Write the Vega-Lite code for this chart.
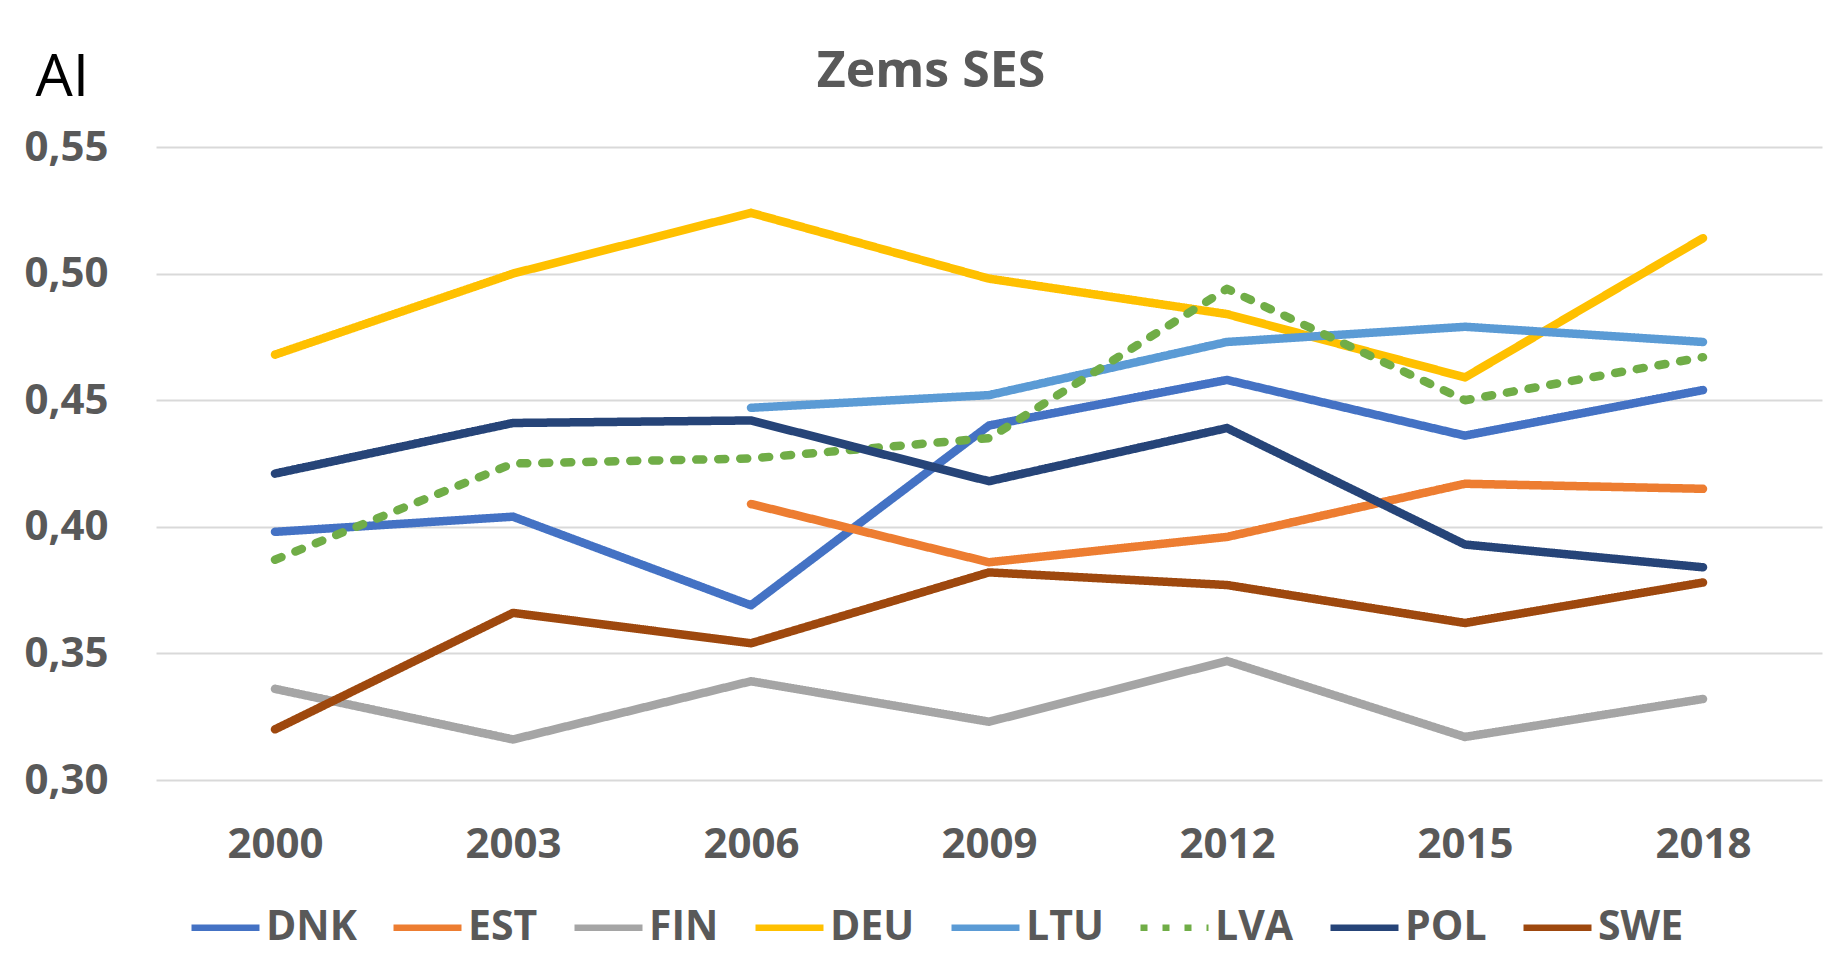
{
  "$schema": "https://vega.github.io/schema/vega-lite/v6.json",
  "width": 1666,
  "height": 633,
  "autosize": {"type": "none"},
  "padding": {"left": 156, "top": 147, "right": 25, "bottom": 192},
  "background": "white",
  "config": {
    "locale": {"number": {"decimal": ",", "thousands": ".", "grouping": [3], "currency": ["", "€"]}},
    "view": {"stroke": null},
    "font": "Open Sans"
  },
  "title": {
    "text": "Zems SES",
    "font": "Open Sans",
    "fontSize": 50,
    "fontWeight": "bold",
    "color": "#595959",
    "anchor": "middle",
    "frame": "bounds",
    "offset": 0,
    "dy": 49,
    "dx": 8
  },
  "data": {
    "values": [
      {"country": "DNK", "year": "2000", "value": 0.398},
      {"country": "DNK", "year": "2003", "value": 0.404},
      {"country": "DNK", "year": "2006", "value": 0.369},
      {"country": "DNK", "year": "2009", "value": 0.440},
      {"country": "DNK", "year": "2012", "value": 0.458},
      {"country": "DNK", "year": "2015", "value": 0.436},
      {"country": "DNK", "year": "2018", "value": 0.454},
      {"country": "EST", "year": "2006", "value": 0.409},
      {"country": "EST", "year": "2009", "value": 0.386},
      {"country": "EST", "year": "2012", "value": 0.396},
      {"country": "EST", "year": "2015", "value": 0.417},
      {"country": "EST", "year": "2018", "value": 0.415},
      {"country": "FIN", "year": "2000", "value": 0.336},
      {"country": "FIN", "year": "2003", "value": 0.316},
      {"country": "FIN", "year": "2006", "value": 0.339},
      {"country": "FIN", "year": "2009", "value": 0.323},
      {"country": "FIN", "year": "2012", "value": 0.347},
      {"country": "FIN", "year": "2015", "value": 0.317},
      {"country": "FIN", "year": "2018", "value": 0.332},
      {"country": "DEU", "year": "2000", "value": 0.468},
      {"country": "DEU", "year": "2003", "value": 0.500},
      {"country": "DEU", "year": "2006", "value": 0.524},
      {"country": "DEU", "year": "2009", "value": 0.498},
      {"country": "DEU", "year": "2012", "value": 0.484},
      {"country": "DEU", "year": "2015", "value": 0.459},
      {"country": "DEU", "year": "2018", "value": 0.514},
      {"country": "LTU", "year": "2006", "value": 0.447},
      {"country": "LTU", "year": "2009", "value": 0.452},
      {"country": "LTU", "year": "2012", "value": 0.473},
      {"country": "LTU", "year": "2015", "value": 0.479},
      {"country": "LTU", "year": "2018", "value": 0.473},
      {"country": "LVA", "year": "2000", "value": 0.387},
      {"country": "LVA", "year": "2003", "value": 0.425},
      {"country": "LVA", "year": "2006", "value": 0.427},
      {"country": "LVA", "year": "2009", "value": 0.435},
      {"country": "LVA", "year": "2012", "value": 0.494},
      {"country": "LVA", "year": "2015", "value": 0.450},
      {"country": "LVA", "year": "2018", "value": 0.467},
      {"country": "POL", "year": "2000", "value": 0.421},
      {"country": "POL", "year": "2003", "value": 0.441},
      {"country": "POL", "year": "2006", "value": 0.442},
      {"country": "POL", "year": "2009", "value": 0.418},
      {"country": "POL", "year": "2012", "value": 0.439},
      {"country": "POL", "year": "2015", "value": 0.393},
      {"country": "POL", "year": "2018", "value": 0.384},
      {"country": "SWE", "year": "2000", "value": 0.320},
      {"country": "SWE", "year": "2003", "value": 0.366},
      {"country": "SWE", "year": "2006", "value": 0.354},
      {"country": "SWE", "year": "2009", "value": 0.382},
      {"country": "SWE", "year": "2012", "value": 0.377},
      {"country": "SWE", "year": "2015", "value": 0.362},
      {"country": "SWE", "year": "2018", "value": 0.378}
    ]
  },
  "mark": {"type": "line", "strokeWidth": 8.5, "strokeCap": "round", "strokeJoin": "round"},
  "encoding": {
    "x": {
      "field": "year",
      "type": "ordinal",
      "scale": {"type": "point", "padding": 0.5},
      "axis": {
        "title": null,
        "labelAngle": 0,
        "labelFont": "Open Sans",
        "labelFontSize": 42,
        "labelFontWeight": "bold",
        "labelColor": "#595959",
        "labelPadding": 44,
        "domain": false,
        "ticks": false,
        "grid": false
      }
    },
    "y": {
      "field": "value",
      "type": "quantitative",
      "scale": {"domain": [0.3, 0.55], "nice": false, "zero": false},
      "axis": {
        "values": [0.3, 0.35, 0.4, 0.45, 0.5, 0.55],
        "format": ".2f",
        "labelFont": "Open Sans",
        "labelFontSize": 42,
        "labelFontWeight": "bold",
        "labelColor": "#595959",
        "labelPadding": 48,
        "domain": false,
        "ticks": false,
        "gridColor": "#D9D9D9",
        "gridWidth": 2,
        "title": "AI",
        "titleAngle": 0,
        "titleFont": "Open Sans",
        "titleFontSize": 59,
        "titleFontWeight": "normal",
        "titleColor": "#000000",
        "titleAlign": "left",
        "titleBaseline": "alphabetic",
        "titleX": -121,
        "titleY": -52
      }
    },
    "color": {
      "field": "country",
      "type": "nominal",
      "scale": {
        "domain": ["DNK", "EST", "FIN", "DEU", "LTU", "LVA", "POL", "SWE"],
        "range": ["#4472C4", "#ED7D31", "#A5A5A5", "#FFC000", "#5B9BD5", "#70AD47", "#264478", "#9E480E"]
      },
      "legend": {
        "title": null,
        "orient": "none",
        "legendX": 32,
        "legendY": 743,
        "direction": "horizontal",
        "symbolType": "stroke",
        "symbolSize": 4624,
        "symbolStrokeWidth": 6.5,
        "labelFont": "Open Sans",
        "labelFontSize": 41,
        "labelFontWeight": "bold",
        "labelColor": "#595959",
        "labelOffset": 3,
        "columnPadding": 23
      }
    },
    "strokeDash": {
      "field": "country",
      "type": "nominal",
      "scale": {
        "domain": ["DNK", "EST", "FIN", "DEU", "LTU", "LVA", "POL", "SWE"],
        "range": [[1, 0], [1, 0], [1, 0], [1, 0], [1, 0], [7, 15], [1, 0], [1, 0]]
      },
      "legend": {
        "title": null,
        "orient": "none",
        "legendX": 32,
        "legendY": 743,
        "direction": "horizontal",
        "symbolType": "stroke",
        "symbolSize": 4624,
        "symbolStrokeWidth": 6.5,
        "labelFont": "Open Sans",
        "labelFontSize": 41,
        "labelFontWeight": "bold",
        "labelColor": "#595959",
        "labelOffset": 3,
        "columnPadding": 23
      }
    }
  }
}
